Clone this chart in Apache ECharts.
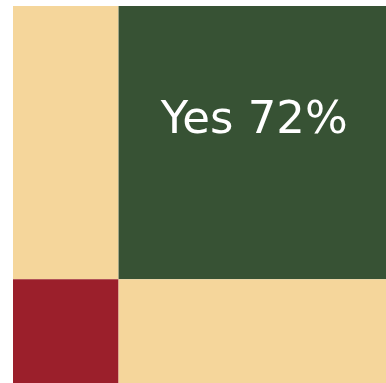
<!DOCTYPE html>
<html><head><meta charset="utf-8">
<script src="https://cdn.jsdelivr.net/npm/echarts@6/dist/echarts.min.js"></script>
<style>html,body{margin:0;padding:0;background:#fff}#c{width:386px;height:383px}</style>
</head><body><div id="c"></div>
<script>
// Mosaic: column variable (x) and row variable (y)
const xCategories = ["No", "Yes"];
const xShares = [28.3, 71.7];
const yCategories = ["Yes", "No"]; // top to bottom
const yShares = [72.5, 27.5];
const cellColors = [["#F5D69B", "#375234"], ["#9B1F2B", "#F5D69B"]]; // [row][col]
const labelText = "Yes 72%";

const cells = [];
let yTop = 100;
for (let r = 0; r < yCategories.length; r++) {
  const yBot = yTop - yShares[r];
  let xl = 0;
  for (let c = 0; c < xCategories.length; c++) {
    const xr = xl + xShares[c];
    const isLabel = xCategories[c] === "Yes" && yCategories[r] === "Yes";
    cells.push({ value: [xl, xr, yBot, yTop], itemStyle: { color: cellColors[r][c] }, label: isLabel ? labelText : "" });
    xl = xr;
  }
  yTop = yBot;
}

const chart = echarts.init(document.getElementById('c'));
chart.setOption({
  animation: false,
  grid: { left: 13, right: 0, top: 6, bottom: 0 },
  xAxis: { type: 'value', min: 0, max: 100, show: false },
  yAxis: { type: 'value', min: 0, max: 100, show: false },
  series: [{
    type: 'custom',
    data: cells,
    renderItem: function (params, api) {
      const p0 = api.coord([api.value(0), api.value(3)]);
      const p1 = api.coord([api.value(1), api.value(2)]);
      const d = cells[params.dataIndex];
      const children = [{
        type: 'rect',
        shape: { x: p0[0], y: p0[1], width: p1[0] - p0[0], height: p1[1] - p0[1] },
        style: { fill: d.itemStyle.color }
      }];
      if (d.label) {
        children.push({
          type: 'text',
          style: {
            text: d.label, x: (p0[0] + p1[0]) / 2 + 2, y: (p0[1] + p1[1]) / 2 - 21,
            fill: '#fff', font: '45px "DejaVu Sans"', align: 'center', verticalAlign: 'middle'
          }
        });
      }
      return { type: 'group', children: children };
    }
  }]
});
</script></body></html>
